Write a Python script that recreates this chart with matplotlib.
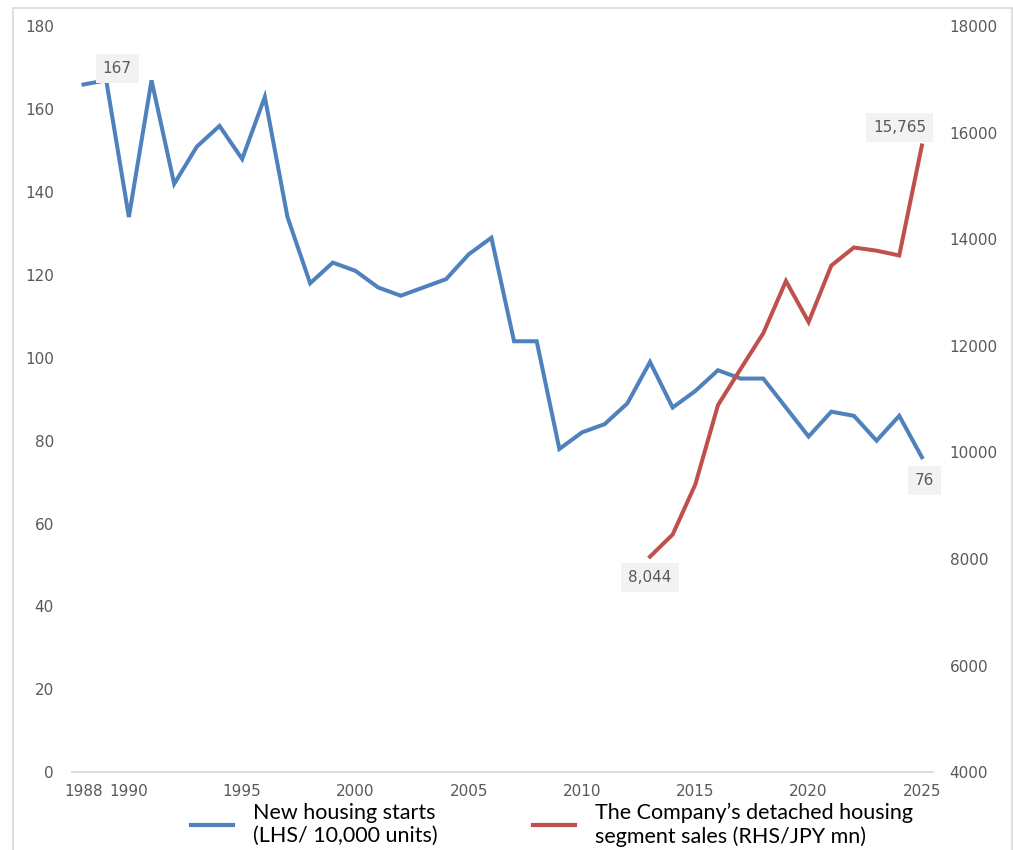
import matplotlib
matplotlib.use("Agg")
import matplotlib.pyplot as plt
from matplotlib.patches import Rectangle

# New housing starts (LHS, 10,000 units)
years = list(range(1988, 2026))
starts = [166, 167, 134, 167, 142, 151, 156, 148, 163, 134,
          118, 123, 121, 117, 115, 117, 119, 125, 129, 104,
          104, 78, 82, 84, 89, 99, 88, 92, 97, 95,
          95, 88, 81, 87, 86, 80, 86, 76]

# Detached housing segment sales (RHS, JPY mn)
sales_years = list(range(2013, 2026))
sales = [8044, 8460, 9400, 10890, 11570, 12240, 13220,
         12450, 13510, 13850, 13790, 13700, 15765]

xticks = [1988, 1990, 1995, 2000, 2005, 2010, 2015, 2020, 2025]
left_ticks = list(range(0, 181, 20))
right_ticks = list(range(4000, 18001, 2000))

blue = '#4f81bd'
red = '#c0504d'
grey = '#595959'

fig = plt.figure(figsize=(10.13, 8.5), dpi=100)
ax = fig.add_axes([72/1013, 1-772/850, (933-72)/1013, (772-26.5)/850])
ax2 = ax.twinx()

ax.plot(years, starts, color=blue, lw=2.9, solid_joinstyle='miter')
ax2.plot(sales_years, sales, color=red, lw=2.9, solid_joinstyle='miter')

ax.set_xlim(1987.49, 2025.49)
ax.set_ylim(0, 180)
ax2.set_ylim(4000, 18000)
ax.set_xticks(xticks)
ax.set_yticks(left_ticks)
ax2.set_yticks(right_ticks)

for a in (ax, ax2):
    for s in a.spines.values():
        s.set_visible(False)
ax.spines['bottom'].set_visible(True)
ax.spines['bottom'].set_color('#d9d9d9')
ax.spines['bottom'].set_linewidth(1.3)

ax.tick_params(axis='y', length=0, pad=13, labelsize=11, labelcolor=grey)
ax.tick_params(axis='x', length=0, pad=9, labelsize=11, labelcolor=grey)
ax2.tick_params(axis='y', length=0, pad=12, labelsize=11, labelcolor=grey)

box = dict(boxstyle='square,pad=0.45', fc='#f2f2f2', ec='none')
lab = dict(textcoords='offset pixels', ha='center', va='center',
           fontsize=11, color=grey, bbox=box)
ax.annotate(f'{starts[1]}', (years[1], starts[1]), xytext=(11, 12), **lab)
ax.annotate(f'{starts[-1]}', (years[-1], starts[-1]), xytext=(3, -23), **lab)
ax2.annotate(f'{sales[0]:,}', (sales_years[0], sales[0]), xytext=(0, -21), **lab)
ax2.annotate(f'{sales[-1]:,}', (sales_years[-1], sales[-1]), xytext=(-22, 18), **lab)

# legend
h1, = ax.plot([], [], color=blue, lw=3)
h2, = ax.plot([], [], color=red, lw=3)
fig.legend([h1, h2],
           ['New housing starts\n(LHS/ 10,000 units)',
            'The Company\u2019s detached housing\nsegment sales (RHS/JPY mn)'],
           loc='upper left', bbox_to_anchor=(172/1013, 1-783/850), ncol=2,
           frameon=False, prop={'family': 'Lato', 'size': 15.5},
           handlelength=1.95, handletextpad=0.93, columnspacing=4.4,
           labelspacing=0.2)

# chart area border
fig.add_artist(Rectangle((13/1013, -0.1), (1011.5-13)/1013, 1.1-8/850,
                         transform=fig.transFigure, fill=False,
                         ec='#d9d9d9', lw=1.2))

fig.savefig('out.png', dpi=100)
